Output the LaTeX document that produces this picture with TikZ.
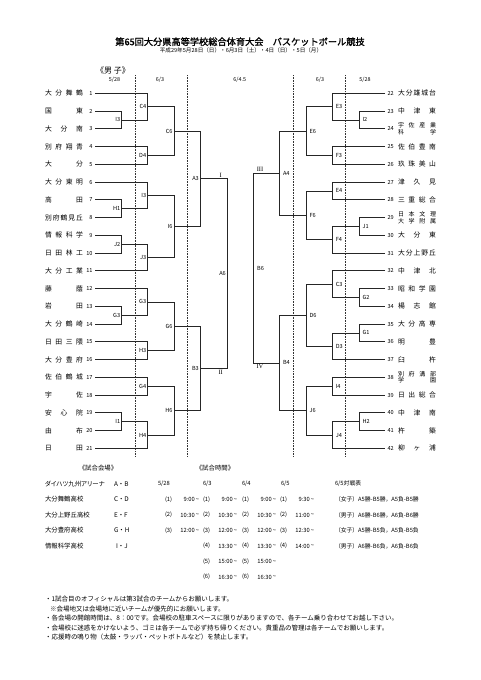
\documentclass[tikz,border=0pt]{standalone}
\usepackage{fontspec}
\setmainfont{Noto Sans CJK JP}
\newfontfamily\titlefont[FakeBold=1.5]{Noto Sans CJK JP}
\newfontfamily\paltfont[RawFeature=+palt]{Noto Sans CJK JP}
\newfontfamily\romfont{Liberation Serif}
\usetikzlibrary{calc}
\def\sprdA#1{\ifx\relax#1\else#1\expandafter\sprdB\fi}
\def\sprdB#1{\ifx\relax#1\else\hfill#1\expandafter\sprdB\fi}
\newcommand\sprd[1]{\expandafter\sprdA#1\relax}
\newcommand\lteam[2]{%
  \coordinate (l#1) at (95,{93.3+17.75*(#1-1)});
  \node[tnum,anchor=east] (ln#1) at ([xshift=-2.5pt]l#1) {#1};
  \node[tname,anchor=west] (lt#1) at (45,{93.3+17.75*(#1-1)}) {\makebox[38pt][s]{\sprd{#2}}};}
\newcommand\rteam[2]{%
  \coordinate (r#1) at (385,{93.3+17.75*(#1-22)});
  \node[tnum,anchor=west] (rn#1) at ([xshift=2.5pt]r#1) {#1};
  \node[tname,anchor=west] (rt#1) at (398,{93.3+17.75*(#1-22)}) {\makebox[38pt][s]{\sprd{#2}}};}
\newcommand\rteamtwo[3]{%
  \coordinate (r#1) at (385,{93.3+17.75*(#1-22)});
  \node[tnum,anchor=west] (rn#1) at ([xshift=2.5pt]r#1) {#1};
  \node[tname2,anchor=west] (rt#1) at (398,{93.3+17.75*(#1-22)}) {\makebox[38pt][s]{\sprd{#2}}\\\makebox[38pt][s]{\sprd{#3}}};}
\newcommand\mt[4]{%
  \path ($(#3)!0.5!(#4)$) coordinate (#1m);
  \coordinate (#1x) at (#2,0);
  \coordinate (#1) at (#1m -| #1x);
  \draw[br] (#3) -- (#3 -| #1) -- (#4 -| #1) -- (#4);}
\newcommand\mtL[5]{\mt{#1}{#2}{#3}{#4}\node[mlab,anchor=east] (#1lab) at ([xshift=-1.5pt]#1) {#5};}
\newcommand\mtR[5]{\mt{#1}{#2}{#3}{#4}\node[mlab,anchor=west] (#1lab) at ([xshift=3.5pt]#1) {#5};}
\newcommand\tm[4]{%
  \node[tsm,anchor=west] (t#1n#2) at (#1,{484+15.5*#2}) {(#3)};
  \node[tsm,anchor=east] (t#1v#2) at ({#1+34},{484+15.5*#2}) {#4\,\raisebox{0.2pt}{\textasciitilde}};}
\begin{document}
\begin{tikzpicture}[x=1pt,y=-1pt,
  tx/.style={inner sep=0pt,outer sep=0pt},
  tname/.style={tx,font=\fontsize{6.8}{7}\selectfont},
  tname2/.style={tx,font=\fontsize{6}{6.4}\selectfont,align=left},
  tnum/.style={tx,font=\fontsize{5.6}{6}\selectfont},
  mlab/.style={tx,font=\fontsize{5.6}{6}\selectfont},
  rom/.style={tx,font=\romfont\fontsize{6.5}{7}\selectfont},
  hdr/.style={tx,font=\fontsize{5.4}{6}\selectfont},
  tbl/.style={tx,font=\fontsize{6.4}{7}\selectfont},
  tsm/.style={tx,font=\fontsize{5.8}{6}\selectfont},
  note/.style={tx,anchor=west,font=\fontsize{6.5}{7}\selectfont},
  br/.style={line width=0.7pt,black!85},
  dl/.style={densely dotted,line width=0.6pt,black!80}]
\fill[white] (0,0) rectangle (481,680);
\useasboundingbox (0,0) rectangle (481,680);
% titles
\node[tx,font=\titlefont\fontsize{9.2}{10}\selectfont] (title) at (240,41.7) {第65回大分県高等学校総合体育大会　バスケットボール競技};
\node[tx,font=\fontsize{5.6}{6}\selectfont] (sub) at (241,50.5) {平成29年5月28日（日）・6月3日（土）・4日（日）・5日（月）};
\node[tx,anchor=west,font=\fontsize{8}{9}\selectfont] (boys) at (96,70.7) {《男 子》};
% date headers
\node[hdr] (d1) at (114.5,80) {5/28};
\node[hdr] (d2) at (160,80) {6/3};
\node[hdr] (d3) at (239.7,80) {6/4.5};
\node[hdr] (d4) at (320,80) {6/3};
\node[hdr] (d5) at (365,80) {5/28};
% dotted day separators
\coordinate (v1t) at (135,75); \coordinate (v1b) at (135,457);
\coordinate (v2t) at (187.3,75); \coordinate (v2b) at (187.3,457);
\coordinate (v3t) at (293.3,75); \coordinate (v3b) at (293.3,457);
\coordinate (v4t) at (345.3,75); \coordinate (v4b) at (345.3,457);
\draw[dl] (v1t) -- (v1b);
\draw[dl] (v2t) -- (v2b);
\draw[dl] (v3t) -- (v3b);
\draw[dl] (v4t) -- (v4b);
% left teams
\lteam{1}{大分舞鶴}
\lteam{2}{国東}
\lteam{3}{大分南}
\lteam{4}{別府翔青}
\lteam{5}{大分}
\lteam{6}{大分東明}
\lteam{7}{高田}
\lteam{8}{別府鶴見丘}
\lteam{9}{情報科学}
\lteam{10}{日田林工}
\lteam{11}{大分工業}
\lteam{12}{藤蔭}
\lteam{13}{岩田}
\lteam{14}{大分鶴崎}
\lteam{15}{日田三隈}
\lteam{16}{大分豊府}
\lteam{17}{佐伯鶴城}
\lteam{18}{宇佐}
\lteam{19}{安心院}
\lteam{20}{由布}
\lteam{21}{日田}
% right teams
\rteam{22}{大分雄城台}
\rteam{23}{中津東}
\rteamtwo{24}{宇佐産業}{科学}
\rteam{25}{佐伯豊南}
\rteam{26}{玖珠美山}
\rteam{27}{津久見}
\rteam{28}{三重総合}
\rteamtwo{29}{日本文理}{大学附属}
\rteam{30}{大分東}
\rteam{31}{大分上野丘}
\rteam{32}{中津北}
\rteam{33}{昭和学園}
\rteam{34}{楊志館}
\rteam{35}{大分高専}
\rteam{36}{明豊}
\rteam{37}{臼杵}
\rteamtwo{38}{別府溝部}{学園}
\rteam{39}{日出総合}
\rteam{40}{中津南}
\rteam{41}{杵築}
\rteam{42}{柳ヶ浦}
% left bracket
\mtL{I3a}{121.7}{l2}{l3}{I3}
\mtL{C4}{147.7}{l1}{I3a}{C4}
\mtL{D4}{147.7}{l4}{l5}{D4}
\mtL{C6}{174}{C4}{D4}{C6}
\mtL{H1}{121.7}{l7}{l8}{H1}
\mtL{I3b}{147.7}{l6}{H1}{I3}
\mtL{J2}{121.7}{l9}{l10}{J2}
\mtL{J3}{147.7}{J2}{l11}{J3}
\mtL{I6}{174}{I3b}{J3}{I6}
\mtL{A3}{200.3}{C6}{I6}{A3}
\mtL{G3a}{121.7}{l13}{l14}{G3}
\mtL{G3b}{147.7}{l12}{G3a}{G3}
\mtL{H3}{147.7}{l15}{l16}{H3}
\mtL{G6}{174}{G3b}{H3}{G6}
\mtL{G4}{147.7}{l17}{l18}{G4}
\mtL{I1}{121.7}{l19}{l20}{I1}
\mtL{H4}{147.7}{I1}{l21}{H4}
\mtL{H6}{174}{G4}{H4}{H6}
\mtL{B3}{200.3}{G6}{H6}{B3}
\mtL{A6}{227.3}{A3}{B3}{A6}
% right bracket
\mtR{I2}{359}{r23}{r24}{I2}
\mtR{E3}{332.3}{r22}{I2}{E3}
\mtR{F3}{332.3}{r25}{r26}{F3}
\mtR{E6}{306}{E3}{F3}{E6}
\mtR{E4}{332.3}{r27}{r28}{E4}
\mtR{J1}{359}{r29}{r30}{J1}
\mtR{F4}{332.3}{J1}{r31}{F4}
\mtR{F6}{306}{E4}{F4}{F6}
\mtR{A4}{279.5}{E6}{F6}{A4}
\mtR{G2}{359}{r33}{r34}{G2}
\mtR{C3}{332.3}{r32}{G2}{C3}
\mtR{G1}{359}{r35}{r36}{G1}
\mtR{D3}{332.3}{G1}{r37}{D3}
\mtR{D6}{306}{C3}{D3}{D6}
\mtR{I4}{332.3}{r38}{r39}{I4}
\mtR{H2}{359}{r40}{r41}{H2}
\mtR{J4}{332.3}{H2}{r42}{J4}
\mtR{J6}{306}{I4}{J4}{J6}
\mtR{B4}{279.5}{D6}{J6}{B4}
\mtR{B6}{253.7}{A4}{B4}{B6}
% roman numerals
\coordinate (xI) at (220.7,0);
\coordinate (xIII) at (260,0);
\node[rom,anchor=south] (rI) at ([yshift=1.5pt]A3 -| xI) {I};
\node[rom,anchor=north] (rII) at ([yshift=-1.8pt]B3 -| xI) {II};
\node[rom,anchor=south] (rIII) at ([yshift=1.5pt]A4 -| xIII) {III};
\node[rom,anchor=north] (rIV) at ([yshift=-1.8pt]B4 -| xIII) {IV};
% venue table
\node[tbl] (hv) at (98,468.5) {《試合会場》};
\node[tbl] (ht) at (215,468.5) {《試合時間》};
\node[tbl,anchor=west,font=\paltfont\fontsize{6.4}{7}\selectfont] (v0) at (45,484) {ダイハツ九州アリーナ};
\node[tbl,anchor=west] (v1) at (45,499.5) {大分舞鶴高校};
\node[tbl,anchor=west] (v2) at (45,515) {大分上野丘高校};
\node[tbl,anchor=west] (v3) at (45,530.5) {大分豊府高校};
\node[tbl,anchor=west] (v4) at (45,546) {情報科学高校};
\node[tbl,anchor=west] (c0) at (114,484) {A・B};
\node[tbl,anchor=west] (c1) at (114,499.5) {C・D};
\node[tbl,anchor=west] (c2) at (114,515) {E・F};
\node[tbl,anchor=west] (c3) at (114,530.5) {G・H};
\node[tbl,anchor=west] (c4) at (116,546) {I・J};
% time table
\node[tsm,anchor=west] (th1) at (158,484) {5/28};
\node[tsm,anchor=west] (th2) at (203,484) {6/3};
\node[tsm,anchor=west] (th3) at (242,484) {6/4};
\node[tsm,anchor=west] (th4) at (281,484) {6/5};
\node[tsm,anchor=west] (th5) at (335,484) {6/5対戦表};
\tm{165}{1}{1}{9:00}
\tm{165}{2}{2}{10:30}
\tm{165}{3}{3}{12:00}
\tm{203}{1}{1}{9:00}
\tm{203}{2}{2}{10:30}
\tm{203}{3}{3}{12:00}
\tm{203}{4}{4}{13:30}
\tm{203}{5}{5}{15:00}
\tm{203}{6}{6}{16:30}
\tm{242}{1}{1}{9:00}
\tm{242}{2}{2}{10:30}
\tm{242}{3}{3}{12:00}
\tm{242}{4}{4}{13:30}
\tm{242}{5}{5}{15:00}
\tm{242}{6}{6}{16:30}
\tm{280}{1}{1}{9:30}
\tm{280}{2}{2}{11:00}
\tm{280}{3}{3}{12:30}
\tm{280}{4}{4}{14:00}
\node[tsm,anchor=west] (m1) at (335,499.5) {（女子）A5勝-B5勝，A5負-B5勝};
\node[tsm,anchor=west] (m2) at (335,515) {（男子）A6勝-B6勝，A6負-B6勝};
\node[tsm,anchor=west] (m3) at (335,530.5) {（女子）A5勝-B5負，A5負-B5負};
\node[tsm,anchor=west] (m4) at (335,546) {（男子）A6勝-B6負，A6負-B6負};
% notes
\node[note] (n1) at (45,599) {・1試合目のオフィシャルは第3試合のチームからお願いします。};
\node[note] (n2) at (50,609) {※会場地又は会場地に近いチームが優先的にお願いします。};
\node[note] (n3) at (45,618.5) {・各会場の開館時間は、8：00です。会場校の駐車スペースに限りがありますので、各チーム乗り合わせてお越し下さい。};
\node[note] (n4) at (45,628) {・会場校に迷惑をかけないよう、ゴミは各チームで必ず持ち帰りください。貴重品の管理は各チームでお願いします。};
\node[note] (n5) at (45,637.5) {・応援時の鳴り物（太鼓・ラッパ・ペットボトルなど）を禁止します。};
\end{tikzpicture}
\end{document}
